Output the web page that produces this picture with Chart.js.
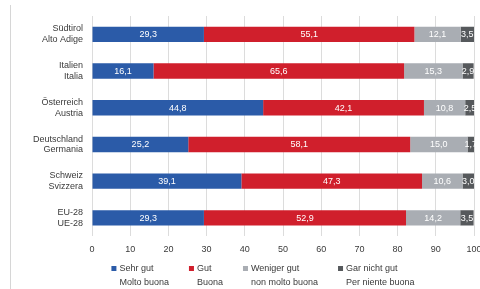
<!DOCTYPE html>
<html>
<head>
<meta charset="utf-8">
<script src="https://cdn.jsdelivr.net/npm/chart.js@4"></script>
<style>
  html, body { margin: 0; padding: 0; background: #fff; overflow: hidden; }
  #wrap { position: relative; width: 480px; height: 289px; }
  #edge { position: absolute; left: 10px; top: 5px; width: 1px; height: 284px; background: #d6d6d6; }
</style>
</head>
<body>
<div id="wrap">
  <div id="edge"></div>
  <canvas id="chart" width="480" height="289"></canvas>
</div>
<script>
// regions, two names each (German / Italian)
const regions = [
  ['Südtirol', 'Alto Adige'],
  ['Italien', 'Italia'],
  ['Österreich', 'Austria'],
  ['Deutschland', 'Germania'],
  ['Schweiz', 'Svizzera'],
  ['EU-28', 'UE-28']
];

const seriesNames = [
  ['Sehr gut', 'Molto buona'],
  ['Gut', 'Buona'],
  ['Weniger gut', 'non molto buona'],
  ['Gar nicht gut', 'Per niente buona']
];

const sehrGut    = [29.3, 16.1, 44.8, 25.2, 39.1, 29.3];
const gut        = [55.1, 65.6, 42.1, 58.1, 47.3, 52.9];
const wenigerGut = [12.1, 15.3, 10.8, 15.0, 10.6, 14.2];
const garNicht   = [3.5, 2.9, 2.5, 1.7, 3.0, 3.5];

const xTicks = [0, 10, 20, 30, 40, 50, 60, 70, 80, 90, 100];

const colors = ['#2b5ba8', '#d01f2c', '#a9adb3', '#56595c'];
const FONT = '"Liberation Sans Narrow", "Liberation Sans", sans-serif';

// white numbers inside each segment, German decimal comma
const valueLabels = {
  id: 'valueLabels',
  afterDatasetsDraw(chart) {
    const ctx = chart.ctx;
    ctx.save();
    ctx.font = '9px ' + FONT;
    ctx.fillStyle = '#ffffff';
    ctx.textAlign = 'center';
    ctx.textBaseline = 'middle';
    chart.data.datasets.forEach((ds, i) => {
      chart.getDatasetMeta(i).data.forEach((bar, j) => {
        const cx = (bar.x + bar.base) / 2;
        ctx.fillText(ds.data[j].toFixed(1).replace('.', ','), cx, bar.y + 0.5);
      });
    });
    ctx.restore();
  }
};

// two-line legend under the axis
const legendBelow = {
  id: 'legendBelow',
  afterDraw(chart) {
    const ctx = chart.ctx;
    ctx.save();
    ctx.font = '9px ' + FONT;
    ctx.textBaseline = 'middle';
    ctx.textAlign = 'left';
    const box = 5, gap = 3, spacing = 20;
    const widths = seriesNames.map(n => box + gap + Math.max(...n.map(t => ctx.measureText(t).width)));
    const total = widths.reduce((a, b) => a + b, 0) + spacing * (widths.length - 1);
    let x = 263 - total / 2;
    const y1 = 269, y2 = 283;
    seriesNames.forEach((n, i) => {
      ctx.fillStyle = colors[i];
      ctx.fillRect(x, y1 - 3, box, box);
      ctx.fillStyle = '#3a3a3a';
      ctx.fillText(n[0], x + box + gap, y1);
      ctx.fillText(n[1], x + box + gap, y2);
      x += widths[i] + spacing;
    });
    ctx.restore();
  }
};

new Chart(document.getElementById('chart'), {
  type: 'bar',
  data: {
    labels: regions,
    datasets: [sehrGut, gut, wenigerGut, garNicht].map((d, i) => ({
      label: seriesNames[i].join(' / '),
      data: d,
      backgroundColor: colors[i],
      borderWidth: 0,
      barPercentage: 0.42,
      categoryPercentage: 1
    }))
  },
  options: {
    indexAxis: 'y',
    responsive: false,
    animation: false,
    layout: { padding: { left: 0, right: 6, top: 16, bottom: 26 } },
    plugins: { legend: { display: false }, tooltip: { enabled: false } },
    scales: {
      x: {
        stacked: true,
        min: 0,
        max: 100,
        afterBuildTicks(scale) { scale.ticks = xTicks.map(v => ({ value: v })); },
        afterFit(scale) { scale.paddingLeft = 0; scale.paddingRight = 0; },
        grid: { color: '#dcdcdc', drawTicks: false },
        border: { display: false },
        ticks: { padding: 8, color: '#3a3a3a', font: { family: FONT, size: 9 } }
      },
      y: {
        stacked: true,
        afterFit(scale) { scale.width = 92; scale.paddingTop = 0; scale.paddingBottom = 0; },
        grid: { display: false, drawTicks: false },
        border: { display: false },
        ticks: { padding: 9, color: '#3a3a3a', font: { family: FONT, size: 9 } }
      }
    }
  },
  plugins: [valueLabels, legendBelow]
});
</script>
</body>
</html>
